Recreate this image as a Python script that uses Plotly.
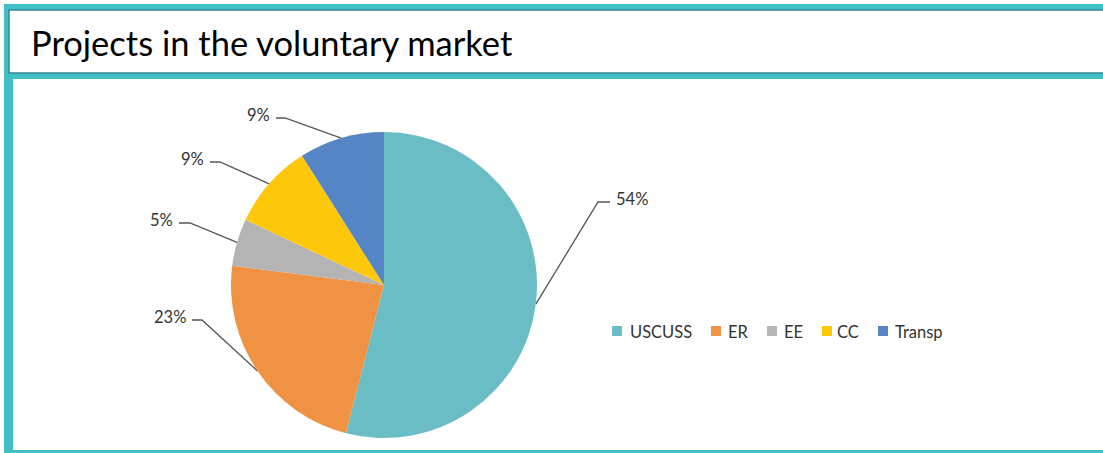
import math
import plotly.graph_objects as go

# data
categories = ["USCUSS", "ER", "EE", "CC", "Transp"]
shares = [54, 23, 5, 9, 9]
pct_labels = ["54%", "23%", "5%", "9%", "9%"]
colors = ["#6BBDC5", "#F09243", "#B4B4B4", "#FEC80A", "#5585C5"]

W, H = 1103, 453
TEAL = "#40C0C4"
DARK_TEAL = "#3B8496"
TEXT_GREY = "#333333"
FONT = "Lato"

# pie geometry in pixels
CX, CY, R = 384, 285, 153

# leader elbow (x, y) and end of the short horizontal tick, per category
leader_layout = {
    "USCUSS": (598, 202, 610),
    "ER": (202, 320, 192),
    "EE": (190, 223, 179),
    "CC": (220, 162, 210),
    "Transp": (285, 118, 276),
}

# legend: square centre x and text start x
legend_sq_x = [617, 716, 772, 827, 883]
legend_txt_x = [628, 726, 782, 835, 893]
LEGEND_Y = 331

fig = go.Figure()

fig.add_trace(go.Pie(
    labels=categories,
    values=shares,
    sort=False,
    direction="clockwise",
    rotation=0,
    marker=dict(colors=colors, line=dict(width=0)),
    textinfo="none",
    showlegend=False,
    domain=dict(
        x=[(CX - R) / W, (CX + R) / W],
        y=[(H - CY - R) / H, (H - CY + R) / H],
    ),
))

# leader lines from the middle of each slice edge
total = sum(shares)
lx, ly = [], []
annotations = []
cum = 0
for cat, val, lab in zip(categories, shares, pct_labels):
    mid = (cum + val / 2) / total
    cum += val
    th = 2 * math.pi * mid
    ex = CX + R * math.sin(th)
    ey = CY - R * math.cos(th)
    bx, by, tx = leader_layout[cat]
    lx += [ex, bx, tx, None]
    ly += [ey, by, by, None]
    right = tx > bx
    annotations.append(dict(
        x=tx + (4 if right else -4), y=by - 3, xref="x", yref="y",
        text=lab, showarrow=False, xanchor="left" if right else "right",
        yanchor="middle", font=dict(family=FONT, size=16.5, color=TEXT_GREY),
    ))

fig.add_trace(go.Scatter(
    x=lx, y=ly, mode="lines", line=dict(color="#555555", width=1.3),
    hoverinfo="skip", showlegend=False,
))

shapes = [
    dict(type="rect", x0=4, x1=1110, y0=4, y1=453, fillcolor=TEAL, line=dict(width=0)),
    dict(type="rect", x0=9, x1=1110, y0=10, y1=73, fillcolor="white",
         line=dict(color=DARK_TEAL, width=1.5)),
    dict(type="rect", x0=13, x1=1110, y0=79, y1=450, fillcolor="white", line=dict(width=0)),
]
for s in shapes:
    s.update(xref="x", yref="y", layer="below")

# custom legend
for cat, col, sx, tx in zip(categories, colors, legend_sq_x, legend_txt_x):
    shapes.append(dict(type="rect", xref="x", yref="y", x0=sx - 5, x1=sx + 5,
                       y0=LEGEND_Y - 5, y1=LEGEND_Y + 5, fillcolor=col, line=dict(width=0)))
    annotations.append(dict(
        x=tx, y=LEGEND_Y + 1, xref="x", yref="y", text=cat, showarrow=False,
        xanchor="left", yanchor="middle", font=dict(family=FONT, size=16.5, color=TEXT_GREY),
    ))

annotations.append(dict(
    x=29, y=42, xref="x", yref="y", text="Projects in the voluntary market",
    showarrow=False, xanchor="left", yanchor="middle",
    font=dict(family=FONT, size=34.5, color="black"),
))

fig.update_layout(
    width=W, height=H,
    margin=dict(l=0, r=0, t=0, b=0),
    paper_bgcolor="white",
    plot_bgcolor="rgba(0,0,0,0)",
    xaxis=dict(range=[0, W], visible=False, fixedrange=True, domain=[0, 1]),
    yaxis=dict(range=[H, 0], visible=False, fixedrange=True, domain=[0, 1]),
    shapes=shapes,
    annotations=annotations,
)

# drop the page's default body margin so the figure sits at the window's corner
fig.write_html("out.html", config={"displayModeBar": False},
               post_script="document.body.style.margin='0';")
